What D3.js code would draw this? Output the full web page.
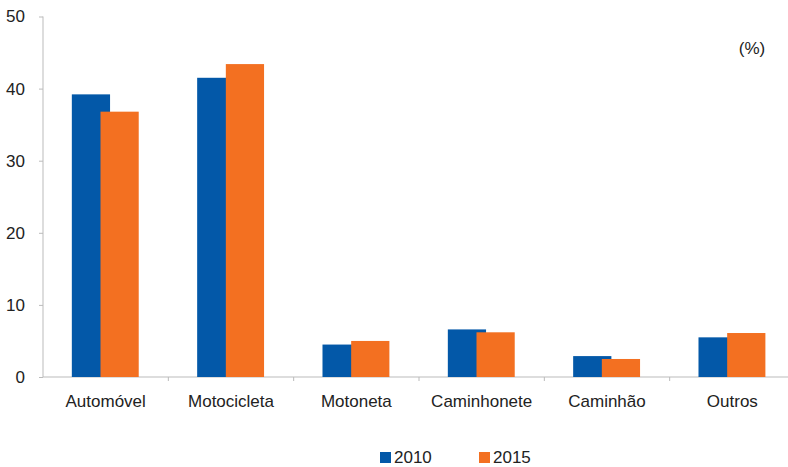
<!DOCTYPE html>
<html>
<head>
<meta charset="utf-8">
<style>
  body { margin: 0; background: #fff; }
  text { font-family: "Liberation Sans Narrow", "Arial Narrow", "Liberation Sans", sans-serif; fill: #222; }
</style>
<script src="https://d3js.org/d3.v7.min.js"></script>
</head>
<body>
<svg width="788" height="467"></svg>
<script>
var categories = ["Automóvel", "Motocicleta", "Motoneta", "Caminhonete", "Caminhão", "Outros"];
var years = ["2010", "2015"];
var values2010 = [39.2, 41.5, 4.5, 6.6, 2.9, 5.5];
var values2015 = [36.8, 43.4, 5.0, 6.2, 2.5, 6.1];
var yTicks = [0, 10, 20, 30, 40, 50];
var colors = ["#0358A8", "#F37021"];

var svg = d3.select("svg");
var plotLeft = 43, plotRight = 795, plotTop = 16.5, plotBottom = 377;

var x = d3.scaleBand().domain(categories).range([plotLeft, plotRight]);
var y = d3.scaleLinear().domain([0, 50]).range([plotBottom, plotTop]);

// y axis
var yAxis = svg.append("g")
  .attr("transform", "translate(" + plotLeft + ",0)")
  .call(d3.axisLeft(y).tickValues(yTicks).tickSize(4).tickPadding(14));
yAxis.select(".domain").attr("stroke", "#bbb").attr("d", "M0," + plotTop + "V" + plotBottom);
yAxis.selectAll(".tick line").attr("stroke", "#bbb");
yAxis.selectAll(".tick text").attr("font-size", "17px").attr("fill", "#222");

// x axis
var xAxis = svg.append("g")
  .attr("transform", "translate(0," + plotBottom + ")")
  .call(d3.axisBottom(x).tickSize(0).tickPadding(18));
xAxis.select(".domain").attr("stroke", "#bbb").attr("d", "M" + plotLeft + ",0H" + plotRight);
xAxis.selectAll(".tick text").attr("font-size", "17px").attr("fill", "#222");
// separators between categories
xAxis.selectAll(".sep")
  .data(categories.slice(1))
  .enter()
  .append("line")
  .attr("class", "sep")
  .attr("x1", function(d) { return x(d); })
  .attr("x2", function(d) { return x(d); })
  .attr("y1", 0)
  .attr("y2", 4)
  .attr("stroke", "#bbb");

var barW = x.bandwidth() * 0.305;
var offsets = [x.bandwidth() * 0.23, x.bandwidth() * 0.23 + barW * 0.75];

// 2010 bars
svg.selectAll(".b2010")
  .data(values2010)
  .enter()
  .append("rect")
  .attr("class", "b2010")
  .attr("x", function(d, i) { return x(categories[i]) + offsets[0]; })
  .attr("y", function(d) { return y(d); })
  .attr("width", barW)
  .attr("height", function(d) { return plotBottom - y(d); })
  .attr("fill", colors[0]);

// 2015 bars
svg.selectAll(".b2015")
  .data(values2015)
  .enter()
  .append("rect")
  .attr("class", "b2015")
  .attr("x", function(d, i) { return x(categories[i]) + offsets[1]; })
  .attr("y", function(d) { return y(d); })
  .attr("width", barW)
  .attr("height", function(d) { return plotBottom - y(d); })
  .attr("fill", colors[1]);

svg.append("text")
  .attr("x", 752)
  .attr("y", 54)
  .attr("text-anchor", "middle")
  .attr("font-size", "17px")
  .text("(%)");

// legend
var legendX = [380, 479];
var lg = svg.selectAll(".lg")
  .data(years)
  .enter()
  .append("g")
  .attr("class", "lg")
  .attr("transform", function(d, i) { return "translate(" + legendX[i] + ",452)"; });
lg.append("rect")
  .attr("width", 11)
  .attr("height", 11)
  .attr("fill", function(d, i) { return colors[i]; });
lg.append("text")
  .attr("x", 14)
  .attr("y", 11)
  .attr("font-size", "17px")
  .text(function(d) { return d; });
</script>
</body>
</html>
